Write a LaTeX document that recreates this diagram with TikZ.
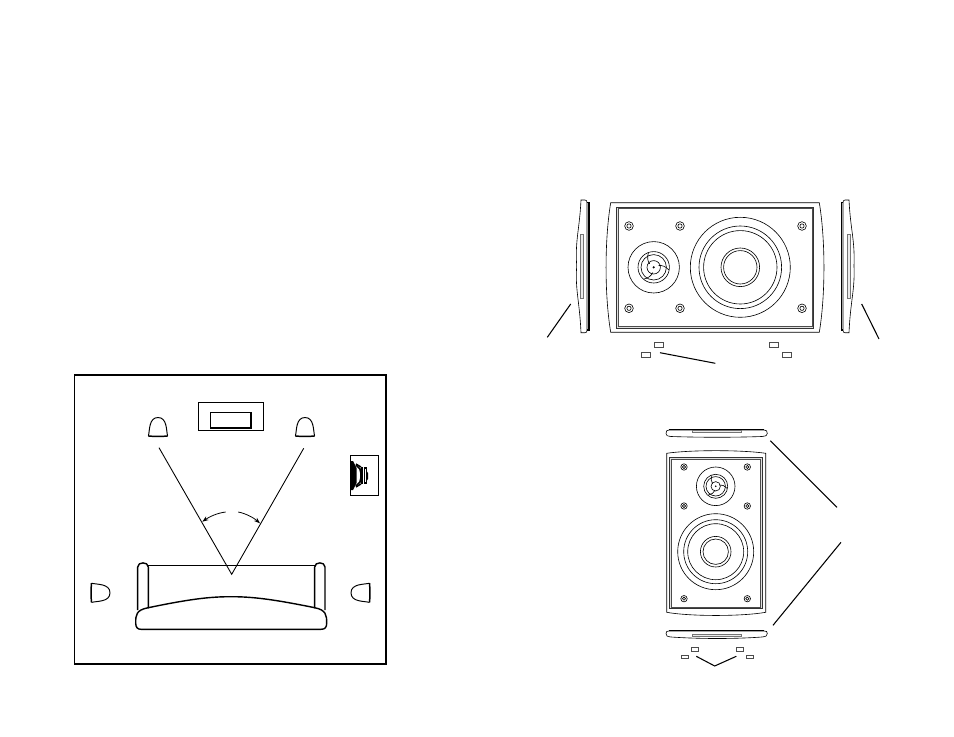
\documentclass[tikz,border=0pt]{standalone}
\usetikzlibrary{arrows.meta}
\tikzset{
	frameline/.style={line width=0.7pt},
	thinline/.style={line width=0.35pt},
	leaderline/.style={line width=0.6pt},
	sofaline/.style={line width=0.8pt},
	slot/.style={line width=0.3pt, draw=black!55, fill=black!8},
	band/.style={line width=0.3pt, draw=black!80, fill=black!12},
	bandin/.style={line width=0.25pt, draw=black!70, fill=white},
	clip rect/.style={line width=0.3pt, draw=black!70},
	pics/dome/.style={code={
		\draw[line width=0.55pt, line join=round] (-9.6,9) .. controls (-8.2,4) and (-9.4,-9.5) .. (0,-9.5)
			.. controls (9.4,-9.5) and (8.2,4) .. (9.6,9);
		\draw[line width=0.85pt] (-9.6,9) .. controls (-4,9.6) and (4,9.6) .. (9.6,9);
	}},
	pics/screw/.style={code={
		\draw[thinline] (0,0) circle (#1);
		\draw[thinline] (0,0) circle (#1*0.5);
	}},
	pics/blades/.style={code={
		\foreach \ang in {20,140,260} {
			\draw[thinline, rotate=\ang] (#1*0.38,0) .. controls (#1*0.6,#1*0.05) and (#1*0.85,#1*0.25) .. (#1*0.95,#1*0.55);
		}
	}}
}
\begin{document}
\begin{tikzpicture}[x=0.02cm, y=-0.02cm]
	\useasboundingbox (0,0) rectangle (954,737);

	% room
	\draw[frameline] (74.5,375) rectangle (386,664);
	\draw[line width=0.55pt] (198.7,402.3) rectangle (263.7,430.7);
	\draw[line width=0.55pt] (210.7,412.3) rectangle (251.7,428);
	\draw[line width=1.2pt] (210.7,428) -- (251.7,428);
	\draw[line width=0.8pt] (250.9,412.3) -- (250.9,428);
	\pic at (158,427) {dome};
	\pic at (305,427) {dome};
	\pic[rotate=-90] at (100.5,592.8) {dome};
	\pic[rotate=90] at (360.5,592.8) {dome};

	% woofer in the corner
	\draw[line width=0.55pt] (350.3,455.3) rectangle (378.3,495.3);
	\fill (351,461) -- (353,461) -- (356.5,468) -- (356.5,483) -- (353,490) -- (351,490) -- cycle;
	\draw[line width=1pt] (356,465) -- (360,469) -- (361,473) -- (361,478) -- (360,482) -- (356,486);
	\fill (361,467) rectangle (363,484);
	\draw[line width=0.9pt] (364.5,468) rectangle (366.5,483);
	\fill (366.5,471) -- (368,473) -- (368,479) -- (366.5,481) -- cycle;
	\draw[line width=0.8pt] (356,464) -- (361,467) (356,487) -- (361,484);

	% listening lines
	\draw[line width=0.5pt] (159,447.7) -- (231.7,574.3) -- (303.7,448.3);
	\draw[line width=0.45pt, -{Stealth[length=3.5pt,width=2.5pt]}] (225.7,512) .. controls (217,513) and (209,517) .. (202.3,521.7);
	\draw[line width=0.45pt, -{Stealth[length=3.5pt,width=2.5pt]}] (238.3,512) .. controls (246,513.5) and (254,518) .. (260,523.3);

	% sofa
	\draw[sofaline] (148.3,565.7) -- (314.7,565.7);
	\draw[sofaline] (137.7,610) -- (137.7,567) .. controls (137.7,561.5) and (148.3,561.5) .. (148.3,567) -- (148.3,608.3);
	\draw[sofaline] (314.7,608.3) -- (314.7,567) .. controls (314.7,561.5) and (325,561.5) .. (325,567) -- (325,610);
	\draw[sofaline] (135.7,623) .. controls (135.7,615) and (136,610) .. (148.3,607.7)
		.. controls (190,599) and (210,596.7) .. (231,596.7)
		.. controls (252,596.7) and (272,599) .. (314.7,607.7)
		.. controls (326,610) and (326.7,615) .. (326.7,623)
		.. controls (326.7,627.5) and (325,629.3) .. (321,629.3)
		-- (141,629.3) .. controls (137.5,629.3) and (135.7,627.5) .. (135.7,623) -- cycle;

	% horizontal speaker
	\draw[thinline] (610.7,202.7) -- (819.3,202.7)
		.. controls (825.5,240) and (825.5,295) .. (819.3,332.3) -- (610.7,332.3)
		.. controls (604.5,295) and (604.5,240) .. (610.7,202.7) -- cycle;
	\draw[band] (616.3,207) rectangle (813.7,328.3);
	\draw[bandin] (618,208.7) rectangle (812,326.7);
	\foreach \px in {629,680,802} {
		\foreach \py in {226,308.3} {
			\pic at (\px,\py) {screw=4.3};
		}
	}
	\foreach \rad in {25.7,15.7,12.7,6.7} {
		\draw[thinline] (653.7,267.3) circle (\rad);
	}
	\fill (653.7,267.3) circle (1.2);
	\pic at (653.7,267.3) {blades=14};
	\foreach \rad in {50,41.3,36.7,19.3,16.7} {
		\draw[thinline] (740.3,267.3) circle (\rad);
	}

	% its two grilles
	\draw[thinline] (581,200) -- (585,200) .. controls (586.5,200) and (587,201) .. (587,203) -- (587,330) .. controls (587,332) and (586.5,332.7) .. (585,332.7) -- (581,332.7)
		.. controls (579.5,300) and (575,290) .. (576.7,266) .. controls (575,240) and (579.5,230) .. (581,200) -- cycle;
	\draw[line width=0.6pt] (587,202.5) -- (589,202.5) -- (589,330) -- (587,330);
	\draw[slot] (580,234.3) rectangle (583.7,298.3);
	\draw[thinline] (849,200) -- (845,200) .. controls (843.5,200) and (843,201) .. (843,203) -- (843,330) .. controls (843,332) and (843.5,332.7) .. (845,332.7) -- (849,332.7)
		.. controls (850.5,300) and (855,290) .. (854,266) .. controls (855,240) and (850.5,230) .. (849,200) -- cycle;
	\draw[line width=0.6pt] (843,202.5) -- (841.7,202.5) -- (841.7,330) -- (843,330);
	\draw[slot] (847,234.3) rectangle (850.7,298.3);

	\foreach \lx/\ly in {654/342.3,641.3/352.3,769.7/342.3,782.3/352.3} {
		\draw[clip rect] (\lx,\ly) rectangle ++(9,5);
	}
	\draw[leaderline] (547.3,337.3) -- (570.7,304);
	\draw[leaderline] (861.7,304) -- (879,339);
	\draw[leaderline] (660,352.7) -- (715.3,363.3);

	% vertical speaker
	\draw[thinline] (666.7,453.3) .. controls (690,449.8) and (742,449.8) .. (765.7,453.3)
		-- (765.7,612.3) .. controls (742,616.5) and (690,616.5) .. (666.7,612.3) -- cycle;
	\draw[band] (669.3,457.3) rectangle (762.3,608.7);
	\draw[bandin] (671,459) rectangle (760.7,607);
	\foreach \px in {684,747.3} {
		\foreach \py in {467,506,598.7} {
			\pic at (\px,\py) {screw=3.2};
		}
	}
	\foreach \rad in {19.3,12,9.7,4.7} {
		\draw[thinline] (715.7,486.3) circle (\rad);
	}
	\fill (715.7,486.3) circle (0.9);
	\pic at (715.7,486.3) {blades=10.5};
	\foreach \rad in {38,32,28,15.3,12.7} {
		\draw[thinline] (715.7,551.7) circle (\rad);
	}

	% its two grilles
	\draw[thinline] (666,433.5) .. controls (666,431) and (667,430) .. (669,430) -- (764,430) .. controls (766.5,430) and (767.3,431) .. (767.3,433.5)
		.. controls (767.3,435.5) and (766,436) .. (762,436.5) .. controls (735,437.5) and (700,437.5) .. (671,436.5) .. controls (667,436) and (666,435.5) .. (666,433.5) -- cycle;
	\draw[line width=0.6pt] (669,429.5) -- (764,429.5);
	\draw[slot] (692.5,430.2) rectangle (741,432.5);
	\draw[thinline] (666,633.5) .. controls (666,631.5) and (667,631) .. (669,631) -- (764,631) .. controls (766.5,631) and (767.3,631.5) .. (767.3,633.5)
		.. controls (767.3,636) and (766,636.5) .. (762,637) .. controls (735,639) and (700,639) .. (671,637) .. controls (667,636.5) and (666,636) .. (666,633.5) -- cycle;
	\draw[line width=0.6pt] (669,630.5) -- (764,630.5);
	\draw[slot] (692,634) rectangle (741.5,636.5);

	\foreach \lx/\ly in {691/647.7,681/655,736.3/647.7,746.3/655} {
		\draw[clip rect] (\lx,\ly) rectangle ++(7.3,3.7);
	}
	\draw[leaderline] (770.3,440.7) -- (837,507.3);
	\draw[leaderline] (773,625.3) -- (841,542.3);
	\draw[leaderline] (696.3,656.3) -- (714.7,666) -- (736.3,656.3);
\end{tikzpicture}
\end{document}
